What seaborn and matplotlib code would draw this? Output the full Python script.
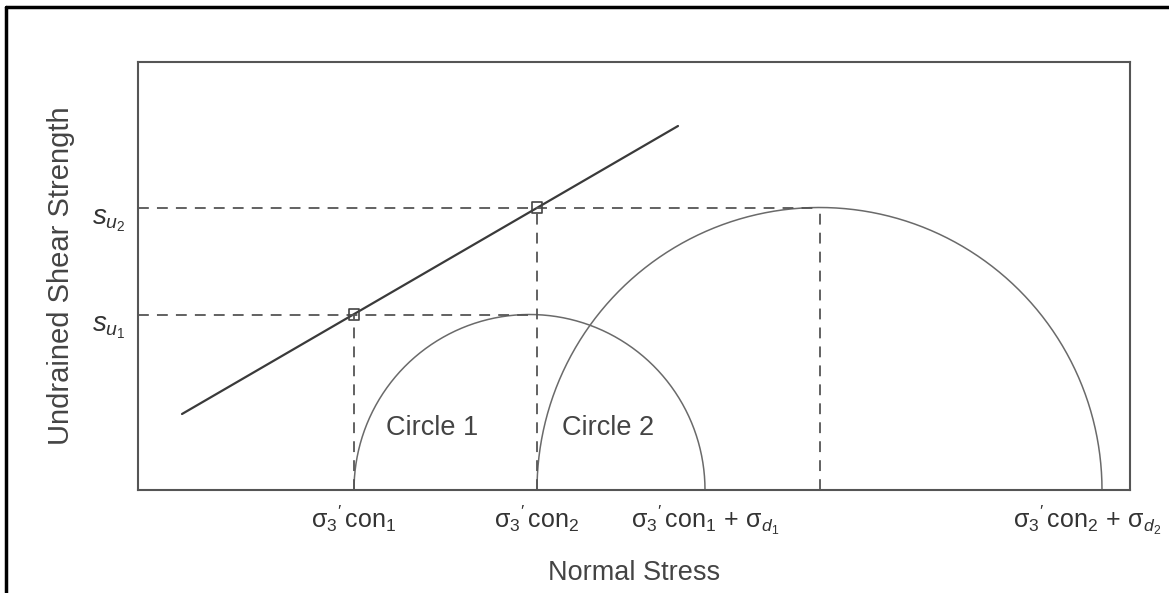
import numpy as np
import pandas as pd
import matplotlib
matplotlib.use("Agg")
import matplotlib.pyplot as plt
import matplotlib.transforms as mtransforms
import seaborn as sns
from matplotlib.lines import Line2D

# ---- data (normal-stress / shear units) ----
sigma3_con = [216, 399]          # confining stresses of test 1 and 2
sigma1_fail = [567, 964]         # sigma3 + sigma_d at failure
envelope_x = [44, 540]           # undrained strength envelope ends
envelope_y = [76, 364]
circle_names = ["Circle 1", "Circle 2"]
x_tick_labels = [r"$\mathrm{\sigma}_3{}'\,\mathrm{con}_1$",
                 r"$\mathrm{\sigma}_3{}'\,\mathrm{con}_2$",
                 r"$\mathrm{\sigma}_3{}'\,\mathrm{con}_1\,+\,\mathrm{\sigma}_{d_1}$",
                 r"$\mathrm{\sigma}_3{}'\,\mathrm{con}_2\,+\,\mathrm{\sigma}_{d_2}$"]
y_tick_labels = [r"$s_{u_1}$", r"$s_{u_2}$"]
x_label = "Normal Stress"
y_label = "Undrained Shear Strength"

sns.set_theme(style="white")
plt.rcParams["font.family"] = ["Liberation Sans", "DejaVu Sans"]
plt.rcParams["mathtext.fontset"] = "custom"
plt.rcParams["mathtext.rm"] = "Liberation Sans"
plt.rcParams["mathtext.it"] = "Liberation Sans:italic"
plt.rcParams["mathtext.bf"] = "Liberation Sans:bold"

fig = plt.figure(figsize=(11.69, 5.93), dpi=100)
ax = fig.add_axes([138 / 1169, 1 - 490 / 593, 992 / 1169, 428 / 593])

centers = [(a + b) / 2 for a, b in zip(sigma3_con, sigma1_fail)]
radii = [(b - a) / 2 for a, b in zip(sigma3_con, sigma1_fail)]

# Mohr circles
rows = []
for name, c, r in zip(circle_names, centers, radii):
    th = np.linspace(0, np.pi, 400)
    for t in th:
        rows.append({"circle": name, "x": c + r * np.cos(t), "y": r * np.sin(t), "t": t})
df = pd.DataFrame(rows)
sns.lineplot(data=df, x="x", y="y", units="circle", estimator=None, sort=False,
             color="#6a6a6a", lw=1.1, ax=ax, legend=False)

# envelope
env = pd.DataFrame({"x": envelope_x, "y": envelope_y})
sns.lineplot(data=env, x="x", y="y", color="#3a3a3a", lw=1.6, ax=ax)

dash = dict(color="#555555", lw=1.3, dashes=(6, 4.5))
# horizontal dashed from axis to circle tops; vertical dashes
for s3, c, r in zip(sigma3_con, centers, radii):
    ax.plot([0, c], [r, r], **dash)
    ax.plot([s3, s3], [0, r], **dash)
ax.plot([centers[1], centers[1]], [0, radii[1]], **dash)

# intersection markers
ax.scatter(sigma3_con, radii, marker="s", s=55, facecolors="none",
           edgecolors="#444444", linewidths=1.2, zorder=5)

for name, c in zip(circle_names, [294, 470]):
    ax.text(c, 62, name, fontsize=19.5, color="#444444", ha="center", va="center")

ax.set_xlim(0, 992)
ax.set_ylim(0, 428)
ax.set_xticks([sigma3_con[0], sigma3_con[1], sigma1_fail[0], sigma1_fail[1]])
ax.set_xticklabels(x_tick_labels, fontsize=18, color="#333333")
ax.set_yticks(radii)
ax.set_yticklabels(y_tick_labels, fontsize=20, color="#333333")
for lab in ax.get_yticklabels():
    lab.set_verticalalignment("top")
ax.tick_params(axis="x", length=0, pad=10)
ax.tick_params(axis="y", length=0, pad=9)
# last label sits slightly left of its position, as in the reference
last = ax.get_xticklabels()[-1]
last.set_transform(last.get_transform() +
                   mtransforms.ScaledTranslation(-0.15, 0, fig.dpi_scale_trans))
ax.set_xlabel(x_label, fontsize=19.5, color="#444444", labelpad=16)
ax.set_ylabel(y_label, fontsize=21, color="#444444", labelpad=12)
for sp in ax.spines.values():
    sp.set_color("#555555")
    sp.set_linewidth(1.5)

# outer frame lines (top and left)
fig.add_artist(Line2D([6 / 1169, 1], [1 - 7 / 593, 1 - 7 / 593], color="black", lw=2.5,
                      transform=fig.transFigure))
fig.add_artist(Line2D([6 / 1169, 6 / 1169], [0, 1 - 7 / 593], color="black", lw=2.5,
                      transform=fig.transFigure))

fig.savefig("out.png", dpi=100)
